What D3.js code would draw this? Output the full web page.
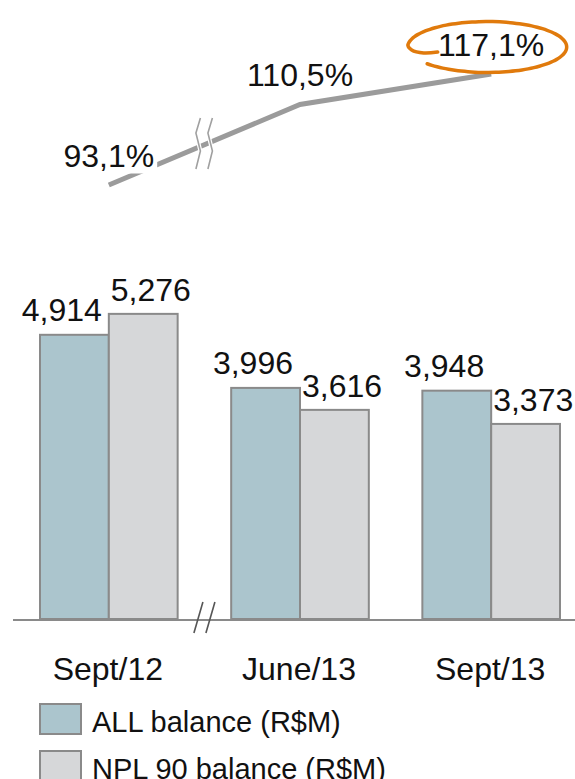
<!DOCTYPE html>
<html><head><meta charset="utf-8">
<script src="https://cdn.jsdelivr.net/npm/d3@7"></script>
<style>html,body{margin:0;padding:0;background:#fff;} svg{display:block;font-family:"Liberation Sans",Arial,sans-serif;}</style>
</head><body>
<svg id="chart" width="575" height="779"></svg>
<script>
const categories = ["Sept/12", "June/13", "Sept/13"];
const allBalance = [4914, 3996, 3948];
const nplBalance = [5276, 3616, 3373];
const allLabels = ["4,914", "3,996", "3,948"];
const nplLabels = ["5,276", "3,616", "3,373"];
const coverage = [93.1, 110.5, 117.1];
const coverageLabels = ["93,1%", "110,5%", "117,1%"];
const seriesNames = ["ALL balance (R$M)", "NPL 90 balance (R$M)"];
const seriesColors = ["#abc5cd", "#d6d7d9"];

const svg = d3.select("#chart");
const stroke = "#8a8a8a";

const x = d3.scaleBand().domain(categories).range([40, 560]).paddingInner(0.28).paddingOuter(0);
const xs = d3.scaleBand().domain([0, 1]).range([0, x.bandwidth()]);
const y = d3.scaleLinear().domain([0, 6000]).range([619, 272]);
const yl = d3.scaleLinear().domain([93.1, 117.1]).range([185, 74]);

// axis line
svg.append("line").attr("x1", 13).attr("x2", 575).attr("y1", 620).attr("y2", 620)
  .attr("stroke", stroke).attr("stroke-width", 2);

// bars
const series = [allBalance, nplBalance];
series.forEach((vals, si) => {
  svg.append("g").selectAll("rect").data(vals).join("rect")
    .attr("x", (d, i) => x(categories[i]) + xs(si))
    .attr("y", d => y(d))
    .attr("width", xs.bandwidth())
    .attr("height", d => y(0) - y(d))
    .attr("fill", seriesColors[si])
    .attr("stroke", stroke).attr("stroke-width", 2);
});

// value labels
svg.append("g").selectAll("text").data(allBalance).join("text")
  .attr("x", (d, i) => x(categories[i]) + xs(0) + xs.bandwidth() - 7)
  .attr("y", d => y(d) - 14)
  .attr("text-anchor", "end").attr("font-size", 32).attr("fill", "#111")
  .text((d, i) => allLabels[i]);
svg.append("g").selectAll("text").data(nplBalance).join("text")
  .attr("x", (d, i) => x(categories[i]) + xs(1) + 2)
  .attr("y", d => y(d) - 13)
  .attr("text-anchor", "start").attr("font-size", 32).attr("fill", "#111")
  .text((d, i) => nplLabels[i]);

// axis break
const bx = (x(categories[0]) + x.bandwidth() + x(categories[1])) / 2;
[-6, 6].forEach(o => {
  svg.append("line").attr("x1", bx + o + 4.5).attr("y1", 602).attr("x2", bx + o - 4.5).attr("y2", 633)
    .attr("stroke", "#555").attr("stroke-width", 1.6);
});

// category labels
svg.append("g").selectAll("text").data(categories).join("text")
  .attr("x", d => x(d) + x.bandwidth() / 2 - 1)
  .attr("y", 680)
  .attr("text-anchor", "middle").attr("font-size", 32).attr("fill", "#111")
  .text(d => d);

// legend
seriesNames.forEach((n, i) => {
  const ly = 704 + i * 47;
  svg.append("rect").attr("x", 40).attr("y", ly).attr("width", 41).attr("height", 30)
    .attr("fill", seriesColors[i]).attr("stroke", stroke).attr("stroke-width", 2);
  svg.append("text").attr("x", 92).attr("y", ly + 27.5).attr("font-size", 29).attr("fill", "#111").text(n);
});

// coverage line
const cx = d => x(d) + x.bandwidth() / 2;
const pts = categories.map((c, i) => [cx(c), yl(coverage[i])]);
svg.append("path").attr("d", d3.line()(pts)).attr("fill", "none")
  .attr("stroke", "#9b9b9b").attr("stroke-width", 5);

// line break marks
const lbx = (pts[0][0] + pts[1][0]) / 2;
const wave = d3.line().curve(d3.curveLinear);
[-6, 6].forEach(o => {
  const w = [[lbx + o + 2, 118], [lbx + o - 2.5, 133], [lbx + o + 2, 151], [lbx + o - 2.5, 169]];
  svg.append("path").attr("d", wave(w)).attr("fill", "none").attr("stroke", "#fff").attr("stroke-width", 4);
  svg.append("path").attr("d", wave(w)).attr("fill", "none").attr("stroke", "#a0a0a0").attr("stroke-width", 1.6);
});

// coverage labels with white background
coverageLabels.forEach((t, i) => {
  const g = svg.append("g");
  const txt = g.append("text").attr("x", pts[i][0]).attr("y", pts[i][1] - 18.5)
    .attr("text-anchor", "middle").attr("font-size", 32).attr("fill", "#111").text(t);
  if (i === 0) {
    const bb = txt.node().getBBox();
    g.insert("rect", "text").attr("x", bb.x - 3).attr("y", bb.y).attr("width", bb.width + 6)
      .attr("height", pts[i][1] - 18.5 + 7 - bb.y).attr("fill", "#fff");
  }
});

// orange hand-drawn ellipse around last label
const ex = pts[2][0] - 4, ey = pts[2][1] - 27, rx = 79.5, ry = 25.5;
const ell = [];
for (let a = 139; a >= -176; a -= 5) {
  const r = a * Math.PI / 180;
  ell.push([ex + rx * Math.cos(r), ey + ry * Math.sin(r)]);
}
ell.push([ex - rx + 4, ey + 3], [ex - rx + 16, ey + 6], [ex - rx + 30, ey + 5]);
svg.append("path").attr("d", d3.line().curve(d3.curveCatmullRom)(ell)).attr("fill", "none")
  .attr("stroke", "#e07a0c").attr("stroke-width", 3.5).attr("stroke-linecap", "round");
</script>
</body></html>
